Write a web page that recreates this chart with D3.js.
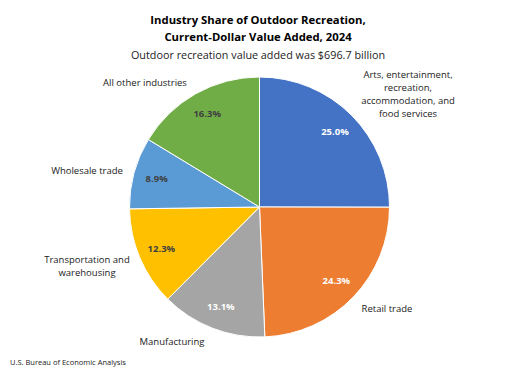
<!DOCTYPE html>
<html>
<head>
<meta charset="utf-8">
<script src="https://cdn.jsdelivr.net/npm/d3@7"></script>
<style>
  body { margin: 0; background: #fff; }
  text { font-family: "Open Sans", "Noto Sans", sans-serif; }
</style>
</head>
<body>
<div id="chart-area"></div>
<script>
// Data
const industries = [
    'Arts, entertainment, recreation, accommodation, and food services',
    'Retail trade',
    'Manufacturing',
    'Transportation and warehousing',
    'Wholesale trade',
    'All other industries'
];
const shares = [25.0, 24.3, 13.1, 12.3, 8.9, 16.3];
const colors = ['#4472C4', '#ED7D31', '#A5A5A5', '#FFC000', '#5B9BD5', '#70AD47'];
// Outside category labels, split into lines as they appear
const labelLines = [
    ['Arts, entertainment,', 'recreation,', 'accommodation, and', 'food services'],
    ['Retail trade'],
    ['Manufacturing'],
    ['Transportation and', 'warehousing'],
    ['Wholesale trade'],
    ['All other industries']
];

const WIDTH = 516;
const HEIGHT = 376;
const CX = 259.5, CY = 207, R = 130;

const svg = d3.select('#chart-area').append('svg')
    .attr('width', WIDTH)
    .attr('height', HEIGHT);

// Titles
svg.append('text')
    .attr('x', 258).attr('y', 24)
    .attr('text-anchor', 'middle')
    .attr('font-size', '11.3px').attr('font-weight', 'bold')
    .attr('fill', '#000')
    .text('Industry Share of Outdoor Recreation,');
svg.append('text')
    .attr('x', 258).attr('y', 41)
    .attr('text-anchor', 'middle')
    .attr('font-size', '11.3px').attr('font-weight', 'bold')
    .attr('fill', '#000')
    .text('Current-Dollar Value Added, 2024');
svg.append('text')
    .attr('x', 258).attr('y', 59)
    .attr('text-anchor', 'middle')
    .attr('font-size', '10.8px')
    .attr('fill', '#222')
    .text('Outdoor recreation value added was $696.7 billion');

const data = industries.map((name, i) => ({name, value: shares[i], color: colors[i], lines: labelLines[i]}));

const pie = d3.pie().value(d => d.value).sort(null);
const arcs = pie(data);

const arc = d3.arc().innerRadius(0).outerRadius(R);
const labelArc = d3.arc().innerRadius(R * 0.82).outerRadius(R * 0.82);

const g = svg.append('g').attr('transform', `translate(${CX},${CY})`);

g.selectAll('path')
    .data(arcs)
    .enter()
    .append('path')
    .attr('d', arc)
    .attr('fill', d => d.data.color)
    .attr('stroke', '#fff')
    .attr('stroke-width', 1);

// Percent labels inside slices
const darkText = ['Transportation and warehousing', 'Wholesale trade', 'All other industries'];
g.selectAll('text.pct')
    .data(arcs)
    .enter()
    .append('text')
    .attr('class', 'pct')
    .attr('transform', d => `translate(${labelArc.centroid(d)})`)
    .attr('text-anchor', 'middle')
    .attr('dy', '0.35em')
    .attr('font-size', '9.5px')
    .attr('font-weight', 'bold')
    .attr('fill', d => darkText.includes(d.data.name) ? '#404040' : '#fff')
    .text(d => d.data.value.toFixed(1) + '%');

// Category labels outside the pie (placement follows the reference)
const labelPos = [
    {x: 408, y: 75},
    {x: 387, y: 309},
    {x: 172, y: 342},
    {x: 87, y: 260},
    {x: 87, y: 171},
    {x: 145, y: 83}
];
data.forEach((d, i) => {
    const t = svg.append('text')
        .attr('text-anchor', 'middle')
        .attr('font-size', '9.5px')
        .attr('fill', '#222');
    d.lines.forEach((line, j) => {
        t.append('tspan')
            .attr('x', labelPos[i].x)
            .attr('y', labelPos[i].y + j * 13)
            .attr('dy', '0.35em')
            .text(line);
    });
});

// Source note
svg.append('text')
    .attr('x', 10).attr('y', 362)
    .attr('dy', '0.35em')
    .attr('font-size', '7.5px')
    .attr('fill', '#222')
    .text('U.S. Bureau of Economic Analysis');
</script>
</body>
</html>
